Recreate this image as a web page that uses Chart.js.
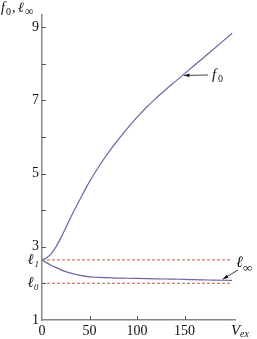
<!DOCTYPE html>
<html>
<head>
<meta charset="utf-8">
<script src="https://cdn.jsdelivr.net/npm/chart.js@4"></script>
<style>
  html, body { margin: 0; padding: 0; background: #fff; }
  #wrap { width: 257px; height: 339px; }
</style>
</head>
<body>
<div id="wrap"><canvas id="myChart" width="257" height="339"></canvas></div>
<script>
// data
const vex  = [0, 5, 10, 15, 20, 25, 30, 35, 40, 50, 60, 70, 80, 90, 100, 110, 120, 130, 140, 150, 160, 170, 180, 190, 200];
const f0   = [2.64, 2.70, 2.82, 3.01, 3.25, 3.52, 3.79, 4.05, 4.30, 4.78, 5.20, 5.58, 5.92, 6.24, 6.54, 6.81, 7.06, 7.29, 7.51, 7.73, 7.95, 8.17, 8.39, 8.61, 8.83];
const lInf = [2.64, 2.56, 2.49, 2.43, 2.37, 2.32, 2.28, 2.25, 2.22, 2.18, 2.165, 2.155, 2.145, 2.14, 2.135, 2.13, 2.125, 2.12, 2.115, 2.11, 2.10, 2.095, 2.09, 2.085, 2.08];
const l1 = 2.64;
const l0 = 2.0;
const dashX = [0, 199];
const xTicks = [0, 50, 100, 150];
const yTicks = [1, 2, 2.64, 3, 4, 5, 6, 7, 8, 9];

const serif = '"Liberation Serif", "Times New Roman", serif';
const curveColor = '#6d66a6';
const dashColor = '#d07a68';

Chart.defaults.font.family = serif;

//setup
const data = {
  datasets: [
    { label: 'f0', data: vex.map((v, i) => ({x: v, y: f0[i]})), borderColor: curveColor, borderWidth: 1.2 },
    { label: 'linf', data: vex.map((v, i) => ({x: v, y: lInf[i]})), borderColor: curveColor, borderWidth: 1.2 },
    { label: 'l1', data: dashX.map(v => ({x: v, y: l1})), borderColor: dashColor, borderWidth: 1.2, borderDash: [3, 2] },
    { label: 'l0', data: dashX.map(v => ({x: v, y: l0})), borderColor: dashColor, borderWidth: 1.2, borderDash: [3, 2] }
  ]
};

function arrow(ctx, x1, y1, x2, y2) {
  ctx.beginPath();
  ctx.moveTo(x1, y1);
  ctx.lineTo(x2, y2);
  ctx.stroke();
  const a = Math.atan2(y2 - y1, x2 - x1);
  ctx.beginPath();
  ctx.moveTo(x2, y2);
  ctx.lineTo(x2 - 6 * Math.cos(a - 0.3), y2 - 6 * Math.sin(a - 0.3));
  ctx.lineTo(x2 - 6 * Math.cos(a + 0.3), y2 - 6 * Math.sin(a + 0.3));
  ctx.closePath();
  ctx.fill();
}

// inside ticks + labels
const extras = {
  id: 'extras',
  afterDraw(chart) {
    const ctx = chart.ctx;
    const xs = chart.scales.x, ys = chart.scales.y;
    const area = chart.chartArea;
    ctx.save();
    ctx.strokeStyle = '#555';
    ctx.lineWidth = 1;
    for (let v = 2; v <= 9; v++) {
      const y = Math.round(ys.getPixelForValue(v)) + 0.5;
      ctx.beginPath(); ctx.moveTo(area.left, y); ctx.lineTo(area.left + 4, y); ctx.stroke();
    }
    for (const v of xTicks.slice(1)) {
      const x = Math.round(xs.getPixelForValue(v)) + 0.5;
      ctx.beginPath(); ctx.moveTo(x, area.bottom); ctx.lineTo(x, area.bottom - 4); ctx.stroke();
    }
    ctx.fillStyle = '#111';
    ctx.strokeStyle = '#111';
    ctx.textBaseline = 'alphabetic';
    // title
    ctx.font = 'italic 14px ' + serif;
    ctx.fillText('f', 1, 12);
    ctx.font = '10px ' + serif;
    ctx.fillText('0', 6, 15);
    ctx.font = '14px ' + serif;
    ctx.fillText(',', 12, 12);
    ctx.font = 'italic 14px ' + serif;
    ctx.fillText('ℓ', 18, 12);
    ctx.font = '12px ' + serif;
    ctx.fillText('∞', 25, 15);
    // V_ex
    ctx.font = 'italic 15px ' + serif;
    ctx.fillText('V', 231, 335);
    ctx.font = 'italic 10px ' + serif;
    ctx.fillText('ex', 240, 337);
    // f0 label + arrow
    const fx = xs.getPixelForValue(148), fy = ys.getPixelForValue(7.68);
    ctx.font = 'italic 15px ' + serif;
    ctx.fillText('f', 212, 79);
    ctx.font = '10px ' + serif;
    ctx.fillText('0', 218, 82);
    ctx.lineWidth = 0.8;
    arrow(ctx, 208, 75, fx + 1, fy);
    // l_inf label + arrow
    const lx = xs.getPixelForValue(189), ly = ys.getPixelForValue(2.085);
    ctx.font = 'italic 16px ' + serif;
    ctx.fillText('ℓ', 236, 267);
    ctx.font = '13px ' + serif;
    ctx.fillText('∞', 243, 272);
    arrow(ctx, 238, 270, lx + 1, ly - 1);
    ctx.restore();
  }
};

//config
const config = {
  type: 'line',
  data: data,
  options: {
    responsive: false,
    animation: false,
    parsing: false,
    layout: { padding: { left: 0, top: 15, right: 22, bottom: 0 } },
    elements: { point: { radius: 0 }, line: { cubicInterpolationMode: 'monotone', fill: false } },
    plugins: { legend: { display: false }, tooltip: { enabled: false } },
    scales: {
      x: {
        type: 'linear', min: 0, max: 203,
        grid: { display: false, drawTicks: false },
        border: { color: '#888', width: 1.5 },
        afterBuildTicks: s => { s.ticks = xTicks.map(v => ({value: v})); },
        afterFit: s => { s.height = 19; },
        ticks: { padding: 3, color: '#111', maxRotation: 0, autoSkip: false, font: { family: serif, size: 14 } }
      },
      y: {
        type: 'linear', min: 1, max: 9.33,
        grid: { display: false, drawTicks: false },
        border: { color: '#888', width: 1.5 },
        afterBuildTicks: s => { s.ticks = yTicks.map(v => ({value: v})); },
        afterFit: s => { s.width = 42; },
        ticks: {
          padding: 3, color: '#111', autoSkip: false,
          font: c => (c.tick && (c.tick.value === l1 || c.tick.value === l0))
            ? { family: serif, size: 15, style: 'italic' }
            : { family: serif, size: 14 },
          callback: v => v === l1 ? 'ℓ₁' : v === l0 ? 'ℓ₀' : (v % 2 === 1 ? String(v) : '')
        }
      }
    }
  },
  plugins: [extras]
};

//start
const myChart = new Chart(document.getElementById('myChart'), config);
</script>
</body>
</html>
